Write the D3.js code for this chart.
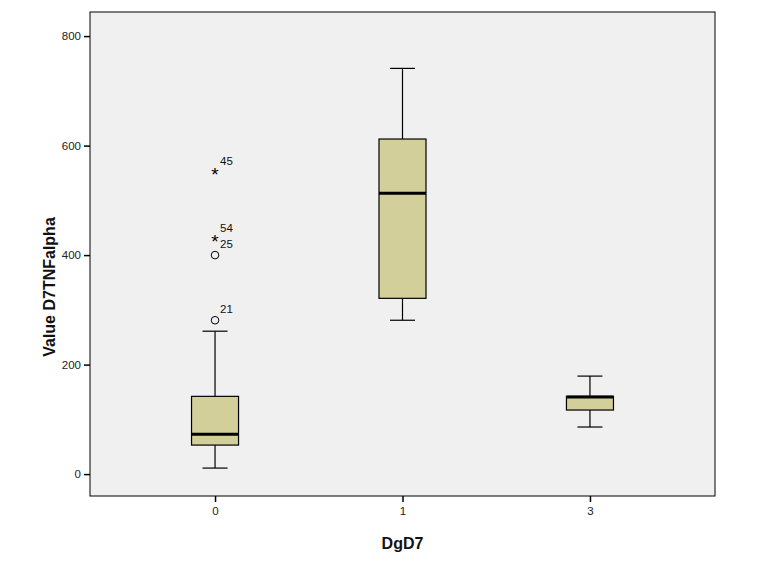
<!DOCTYPE html>
<html lang="en">
<head>
  <meta charset="UTF-8">
  <title>Value D7TNFalpha by DgD7</title>
  <style>
    body { margin: 0; background: #fff; }
    svg text { font-family: "Liberation Sans", Arial, sans-serif; }
    .axis text { font-size: 11.5px; fill: #222; }
    .axis path, .axis line { stroke: #000; stroke-width: 1.5px; }
    .title { font-size: 16px; font-weight: bold; fill: #111; }
  </style>
</head>
<body>
  <div id="chart"></div>
  <script src="https://d3js.org/d3.v7.min.js"></script>
  <script>
    // groups on the x axis
    const groups = ["0", "1", "3"];
    // box statistics per group
    const lowWhisker = [11, 281, 86];
    const q1 = [53, 321, 117];
    const median = [73, 513, 141];
    const q3 = [142, 612, 142];
    const highWhisker = [261, 741, 179];
    // outliers in group 0
    const outlierGroup = ["0", "0", "0", "0"];
    const outlierValue = [281, 400, 429, 552];
    const outlierLabel = ["21", "25", "54", "45"];
    const outlierKind = ["circle", "circle", "star", "star"];
    const yTicks = [0, 200, 400, 600, 800];

    const width = 771, height = 585;
    const plot = { left: 90, right: 715, top: 12, bottom: 496 };

    const svg = d3.select('#chart').append('svg')
      .attr('width', width)
      .attr('height', height);

    const x = d3.scalePoint()
      .domain(groups)
      .range([plot.left, plot.right])
      .padding(0.667);

    const y = d3.scaleLinear()
      .domain([-40, 844])
      .range([plot.bottom, plot.top]);

    svg.append('rect')
      .attr('x', plot.left)
      .attr('y', plot.top)
      .attr('width', plot.right - plot.left)
      .attr('height', plot.bottom - plot.top)
      .attr('fill', '#f0f0f0')
      .attr('stroke', '#000')
      .attr('stroke-width', 1);

    const boxes = groups.map((g, i) => ({
      g, lo: lowWhisker[i], q1: q1[i], med: median[i], q3: q3[i], hi: highWhisker[i]
    }));

    const boxW = 47, capW = 25;
    const bg = svg.selectAll('.box')
      .data(boxes)
      .enter().append('g')
      .attr('class', 'box')
      .attr('transform', d => `translate(${x(d.g)},0)`);

    // whiskers
    bg.append('line')
      .attr('x1', 0).attr('x2', 0)
      .attr('y1', d => y(d.hi)).attr('y2', d => y(d.q3))
      .attr('stroke', '#000').attr('stroke-width', 1.2);
    bg.append('line')
      .attr('x1', 0).attr('x2', 0)
      .attr('y1', d => y(d.q1)).attr('y2', d => y(d.lo))
      .attr('stroke', '#000').attr('stroke-width', 1.2);
    bg.append('line')
      .attr('x1', -capW / 2).attr('x2', capW / 2)
      .attr('y1', d => y(d.hi)).attr('y2', d => y(d.hi))
      .attr('stroke', '#000').attr('stroke-width', 1.2);
    bg.append('line')
      .attr('x1', -capW / 2).attr('x2', capW / 2)
      .attr('y1', d => y(d.lo)).attr('y2', d => y(d.lo))
      .attr('stroke', '#000').attr('stroke-width', 1.2);

    bg.append('rect')
      .attr('x', -boxW / 2)
      .attr('y', d => y(d.q3))
      .attr('width', boxW)
      .attr('height', d => y(d.q1) - y(d.q3))
      .attr('fill', '#d3cf9b')
      .attr('stroke', '#000')
      .attr('stroke-width', 1.2);

    bg.append('line')
      .attr('x1', -boxW / 2).attr('x2', boxW / 2)
      .attr('y1', d => y(d.med)).attr('y2', d => y(d.med))
      .attr('stroke', '#000').attr('stroke-width', 3);

    // outliers
    const outliers = outlierValue.map((v, i) => ({
      g: outlierGroup[i], v, label: outlierLabel[i], kind: outlierKind[i]
    }));

    outliers.filter(d => d.kind === 'circle').forEach(d => {
      svg.append('circle')
        .attr('cx', x(d.g))
        .attr('cy', y(d.v))
        .attr('r', 3.8)
        .attr('fill', 'none')
        .attr('stroke', '#000')
        .attr('stroke-width', 1);
    });
    outliers.filter(d => d.kind === 'star').forEach(d => {
      svg.append('text')
        .attr('x', x(d.g))
        .attr('y', y(d.v) + 9)
        .attr('text-anchor', 'middle')
        .style('font-size', '19px')
        .text('*');
    });
    outliers.forEach(d => {
      svg.append('text')
        .attr('x', x(d.g) + 5)
        .attr('y', y(d.v) - 7)
        .style('font-size', '11.5px')
        .attr('fill', '#111')
        .text(d.label);
    });

    // axes
    svg.append('g')
      .attr('class', 'axis')
      .attr('transform', `translate(${plot.left},0)`)
      .call(d3.axisLeft(y).tickValues(yTicks).tickSize(6).tickPadding(3).tickSizeOuter(0))
      .call(g => g.select('.domain').remove());

    svg.append('g')
      .attr('class', 'axis')
      .attr('transform', `translate(0,${plot.bottom})`)
      .call(d3.axisBottom(x).tickSize(6).tickPadding(5).tickSizeOuter(0))
      .call(g => g.select('.domain').remove());

    svg.append('text')
      .attr('class', 'title')
      .attr('x', x('1'))
      .attr('y', 549)
      .attr('text-anchor', 'middle')
      .text('DgD7');

    svg.append('text')
      .attr('class', 'title')
      .attr('transform', 'rotate(-90)')
      .attr('x', -287)
      .attr('y', 55)
      .attr('text-anchor', 'middle')
      .text('Value D7TNFalpha');
  </script>
</body>
</html>
